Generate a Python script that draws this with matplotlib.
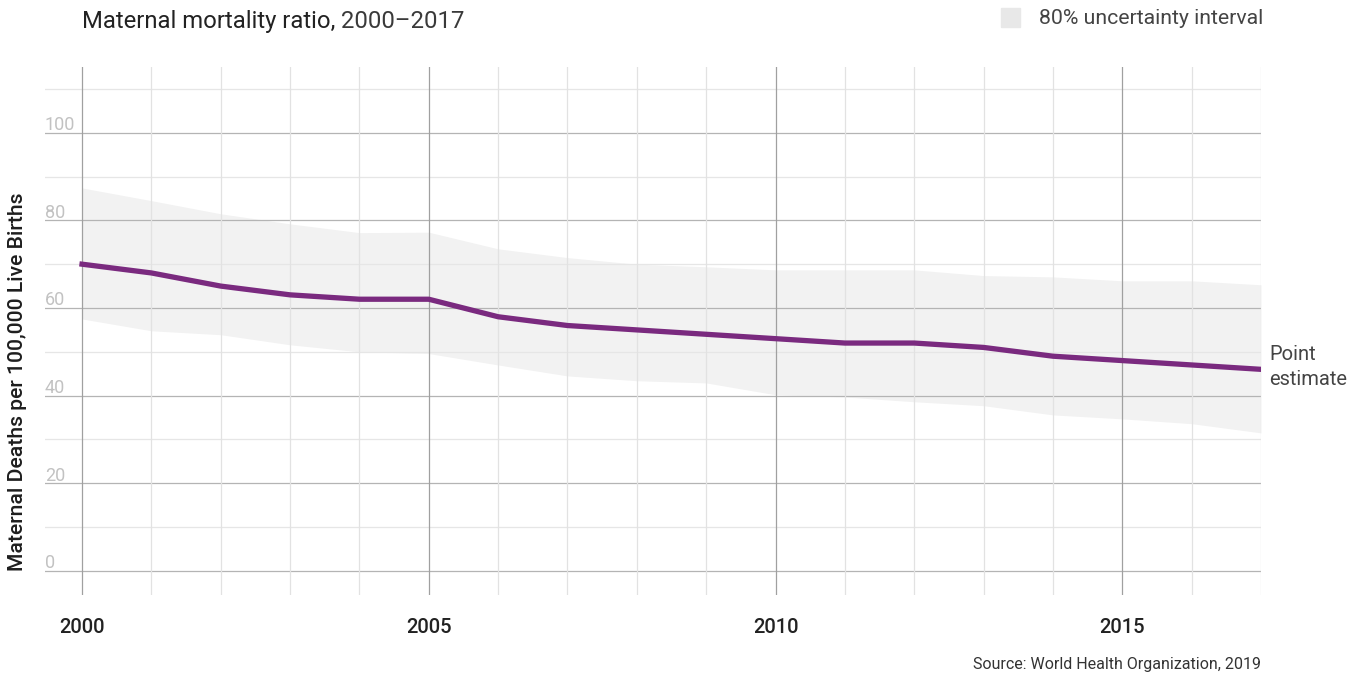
import numpy as np
import matplotlib.pyplot as plt

plt.rcParams['font.family'] = ['Roboto', 'DejaVu Sans']

years = list(range(2000, 2018))
point = [70, 68, 65, 63, 62, 62, 58, 56, 55, 54, 53, 52, 52, 51, 49, 48, 47, 46]
upper = [87.4, 84.5, 81.5, 79.2, 77.2, 77.3, 73.5, 71.5, 70.0, 69.4, 68.7, 68.7,
         68.7, 67.4, 67.1, 66.2, 66.2, 65.3]
lower = [57.5, 54.8, 53.9, 51.6, 50.0, 49.6, 47.0, 44.5, 43.4, 42.9, 40.2, 39.7,
         38.6, 37.7, 35.6, 34.7, 33.6, 31.5]
ytick_vals = [0, 20, 40, 60, 80, 100]
xtick_vals = [2000, 2005, 2010, 2015]

W, H = 1369, 676
fig = plt.figure(figsize=(W / 100, H / 100), dpi=100)
# axes box in pixels: x 45..1261, y 67..595
ax = fig.add_axes([45 / W, 1 - 595 / H, (1261 - 45) / W, (595 - 67) / H])
ax.set_xlim(1999.466, 2017)
ax.set_ylim(-5.5, 115)
ax.axis('off')

# grid
for v in range(0, 111, 10):
    major = v % 20 == 0
    ax.axhline(v, color='#b4b4b4' if major else '#e6e6e6', lw=0.9, zorder=1)
for yr in years:
    major = yr % 5 == 0
    ax.axvline(yr, color='#a0a0a0' if major else '#e2e2e2', lw=0.9, zorder=1)

ax.fill_between(years, lower, upper, color='#f2f2f2', lw=0, zorder=0.5)
ax.plot(years, point, color='#7a2a7f', lw=3.8, solid_joinstyle='round', zorder=3)

for v in ytick_vals:
    ax.text(1999.466, v + 0.6, str(v), color='#c2c2c2', fontsize=13,
            ha='left', va='baseline', zorder=2)
for yr in xtick_vals:
    ax.text(yr, -13, str(yr), color='#222222', fontsize=14.5,
            fontweight='medium', ha='center', va='center', clip_on=False)

ax.text(2017.12, point[-1] + 3.5, 'Point', color='#444444', fontsize=14.5,
        ha='left', va='center')
ax.text(2017.12, point[-1] - 2.4, 'estimate', color='#444444', fontsize=14.5,
        ha='left', va='center')

fig.text(18 / W, 1 - 382 / H, 'Maternal Deaths per 100,000 Live Births',
         rotation=90, ha='center', va='center', fontsize=15.2,
         fontweight='medium', color='#1e1e1e')

t1 = fig.text(82 / W, 1 - 28 / H, 'Maternal mortality ratio,', fontsize=17.2,
              color='#222222', ha='left', va='baseline')
fig.canvas.draw()
ax.annotate(' 2000\u20132017', xy=(1, 0), xycoords=t1, fontsize=17.2,
            color='#3a3a3a', ha='left', va='bottom')

fig.patches.append(plt.Rectangle((1001 / W, 1 - 27 / H), 19 / W, 19 / H,
                                 transform=fig.transFigure, color='#e8e8e8'))
fig.text(1039 / W, 1 - 18 / H, '80% uncertainty interval', fontsize=15.3,
         color='#444444', ha='left', va='center')

fig.text(1261 / W, 1 - 664 / H, 'Source: World Health Organization, 2019',
         fontsize=11.5, color='#333333', ha='right', va='center')

fig.savefig('out.png', dpi=100, facecolor='white')
